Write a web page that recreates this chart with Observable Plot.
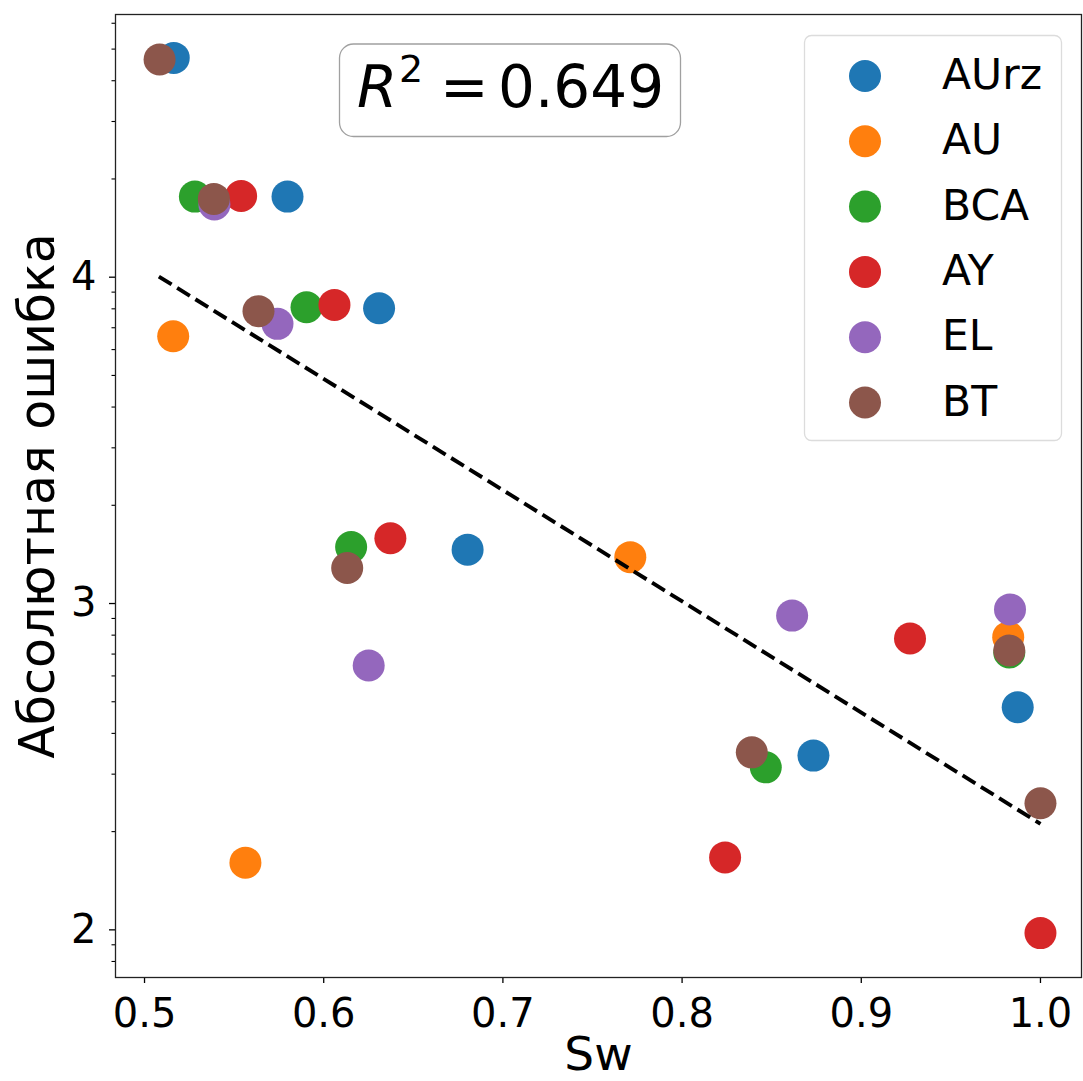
<!DOCTYPE html>
<html>
<head>
<meta charset="utf-8">
<script src="https://cdn.jsdelivr.net/npm/d3@7"></script>
<script src="https://cdn.jsdelivr.net/npm/@observablehq/plot@0.6"></script>
<style>
  body { margin: 0; background: #fff; }
  svg { display: block; }
</style>
</head>
<body>
<div id="chart"></div>
<script>
// Methods, in drawing order, with the tab10 colours
const series = ["AUrz", "AU", "BCA", "AY", "EL", "BT"];
const colors = ["#1f77b4", "#ff7f0e", "#2ca02c", "#d62728", "#9467bd", "#8c564b"];

// Sw and log10(absolute error) for each method
const swAUrz = [0.5163, 0.5798, 0.6309, 0.6803, 0.8733, 0.9873];
const lgAUrz = [4.672, 4.247, 3.905, 3.165, 2.534, 2.682];

const swAU = [0.5160, 0.5563, 0.7711, 0.9820];
const lgAU = [3.819, 2.206, 3.142, 2.897];

const swBCA = [0.5281, 0.5904, 0.6153, 0.8467, 0.9826];
const lgBCA = [4.247, 3.908, 3.173, 2.498, 2.850];

const swAY = [0.5539, 0.6060, 0.6372, 0.8240, 0.9272, 1.0000];
const lgAY = [4.249, 3.915, 3.200, 2.222, 2.893, 1.990];

const swEL = [0.5390, 0.5742, 0.6251, 0.8614, 0.9830];
const lgEL = [4.223, 3.857, 2.810, 2.963, 2.982];

const swBT = [0.5084, 0.5387, 0.5636, 0.6131, 0.8389, 0.9826, 1.0000];
const lgBT = [4.667, 4.240, 3.896, 3.109, 2.544, 2.856, 2.388];

// Fitted trend (log10 error against Sw) and its R²
const trendSw = [0.508, 1.0];
const trendLg = [4.002, 2.325];
const r2Value = "0.649";

// Axis ticks
const xTicks = [0.5, 0.6, 0.7, 0.8, 0.9, 1.0];
const yMajorExp = [2, 3, 4];

const swBySeries = [swAUrz, swAU, swBCA, swAY, swEL, swBT];
const lgBySeries = [lgAUrz, lgAU, lgBCA, lgAY, lgEL, lgBT];

const points = series.flatMap((s, i) =>
  swBySeries[i].map((sw, j) => ({ series: s, sw, err: 10 ** lgBySeries[i][j] }))
);
const trend = trendSw.map((sw, i) => ({ sw, err: 10 ** trendLg[i] }));

const yDomain = [10 ** 1.854, 10 ** 4.805];
const yMinor = [];
for (let n = 1; n <= 4; n++) {
  for (let k = 2; k <= 9; k++) {
    const v = k * 10 ** n;
    if (v >= yDomain[0] && v <= yDomain[1]) yMinor.push(v);
  }
}

const W = 1083, H = 1081;
const font = "'DejaVu Sans', 'Liberation Sans', sans-serif";

const chart = Plot.plot({
  width: W,
  height: H,
  marginLeft: 115,
  marginRight: 2,
  marginTop: 14,
  marginBottom: 104,
  style: { fontFamily: font, background: "white", color: "black" },
  x: { domain: [0.4838, 1.0229] },
  y: { type: "log", domain: yDomain },
  color: { domain: series, range: colors },
  marks: [
    Plot.axisX({
      ticks: xTicks, tickFormat: d => d.toFixed(1), tickSize: 6, tickPadding: 15,
      fontSize: 40, label: null, stroke: "black", strokeWidth: 1.3
    }),
    Plot.axisY({
      ticks: yMinor, tickFormat: () => "", tickSize: 3.5, label: null,
      stroke: "black", strokeWidth: 1.1
    }),
    Plot.axisY({
      ticks: yMajorExp.map(e => 10 ** e), tickFormat: d => String(Math.round(Math.log10(d))),
      tickSize: 6, tickPadding: 13, fontSize: 40, label: null, stroke: "black", strokeWidth: 1.3
    }),
    Plot.dot(points, { x: "sw", y: "err", fill: "series", r: 16 }),
    Plot.line(trend, {
      x: "sw", y: "err", stroke: "black", strokeWidth: 3.9,
      strokeDasharray: "15,6.5", strokeLinecap: "butt"
    }),
    Plot.frame({ stroke: "#222", strokeWidth: 1.3 }),
    Plot.text(["Sw"], {
      text: d => d, frameAnchor: "bottom", dy: 77, lineAnchor: "middle",
      textAnchor: "middle", fontSize: 47, fill: "black"
    }),
    Plot.text(["Абсолютная ошибка"], {
      text: d => d, frameAnchor: "left", dx: -77, rotate: -90, lineAnchor: "middle",
      textAnchor: "middle", fontSize: 49, fill: "black"
    })
  ]
});

document.getElementById("chart").appendChild(chart);

const svg = d3.select(chart);

// R² annotation box
const ann = svg.append("g").attr("font-family", font).attr("fill", "black")
  .attr("text-anchor", "start");
ann.append("rect")
  .attr("x", 339.5).attr("y", 44).attr("width", 341).attr("height", 92.5)
  .attr("rx", 14).attr("fill", "white").attr("stroke", "#a0a0a0").attr("stroke-width", 1.3);
ann.append("text").attr("x", 357).attr("y", 107).attr("font-size", 58)
  .attr("font-style", "italic").text("R");
ann.append("text").attr("x", 399).attr("y", 82).attr("font-size", 38).text("2");
ann.append("text").attr("x", 440).attr("y", 107).attr("font-size", 58).text("=");
ann.append("text").attr("x", 498).attr("y", 107).attr("font-size", 58).text(r2Value);

// Legend
const leg = svg.append("g").attr("font-family", font).attr("text-anchor", "start");
leg.append("rect")
  .attr("x", 804.5).attr("y", 35.5).attr("width", 257).attr("height", 405)
  .attr("rx", 7).attr("fill", "white").attr("fill-opacity", 0.8)
  .attr("stroke", "#dcdcdc").attr("stroke-width", 1.3);
series.forEach((s, i) => {
  const cy = 76 + i * 65.3;
  leg.append("circle").attr("cx", 865).attr("cy", cy).attr("r", 16).attr("fill", colors[i]);
  leg.append("text").attr("x", 942).attr("y", cy + 13).attr("font-size", 42.5)
    .attr("fill", "black").text(s);
});
</script>
</body>
</html>
